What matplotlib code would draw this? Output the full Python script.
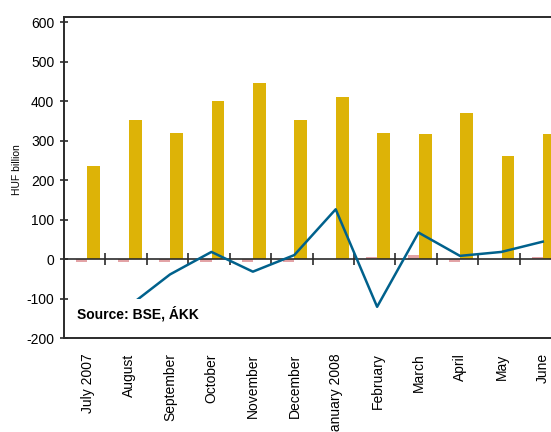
import matplotlib
matplotlib.use("Agg")
import matplotlib.pyplot as plt
import numpy as np

# monthly figures, HUF billion
months = ["July 2007", "August", "September", "October", "November", "December",
          "January 2008", "February", "March", "April", "May", "June"]
small_series = [-7, -7, -7, -7, -7, -7, 0, 6, 11, -7, 0, 6]
main_series = [236, 352, 319, 400, 446, 352, 410, 319, 316, 370, 261, 316]
net_series = [-150, -120, -39, 18, -32, 10, 126, -121, 67, 8, 18, 44]

plt.rcParams['font.family'] = ['Liberation Sans', 'DejaVu Sans']
plt.rcParams['axes.unicode_minus'] = False

gold = '#DDB307'
pink = '#E3A3A6'
blue = '#00618C'
axis_col = '#2b2b2b'

fig = plt.figure(figsize=(5.51, 4.32), dpi=100)
ax = fig.add_axes([64 / 551, 1 - 338 / 432, 497 / 551, 321 / 432])

x = np.arange(len(months))
ax.bar(x - 0.07, small_series, width=0.27, color=pink, zorder=2)
ax.bar(x + 0.22, main_series, width=0.31, color=gold, zorder=2)
ax.axhline(0, color=axis_col, lw=1.2, zorder=3)
# category separators on the zero line
ax.plot(x[:-1] + 0.5, np.zeros(len(x) - 1), linestyle='none', marker='|',
        markersize=9, markeredgewidth=1.2, color=axis_col, zorder=3)
ax.plot(x + 0.06, net_series, color=blue, lw=1.8, zorder=4)

ax.set_xlim(-0.5, len(months) - 0.5)
ax.set_ylim(-200, 613)
ax.set_yticks(np.arange(-200, 601, 100))
ax.tick_params(axis='y', direction='inout', length=6, width=1.2, color=axis_col,
               labelsize=10, pad=4)
ax.set_xticks(x + 0.07)
ax.set_xticklabels(months, rotation=90, fontsize=10)
ax.tick_params(axis='x', length=0, pad=11)

for side in ['left', 'top', 'bottom']:
    ax.spines[side].set_color(axis_col)
    ax.spines[side].set_linewidth(1.4)
ax.spines['right'].set_visible(False)

fig.text(17 / 551, 1 - 170 / 432, 'HUF billion', rotation=90, fontsize=7.5,
         ha='center', va='center')

ax.text(-0.19, -139, 'Source: BSE, ÁKK', fontsize=10, fontweight='bold',
        va='center', ha='left', zorder=5,
        bbox=dict(facecolor='white', edgecolor='none', pad=5))

fig.savefig('out.png', dpi=100)
